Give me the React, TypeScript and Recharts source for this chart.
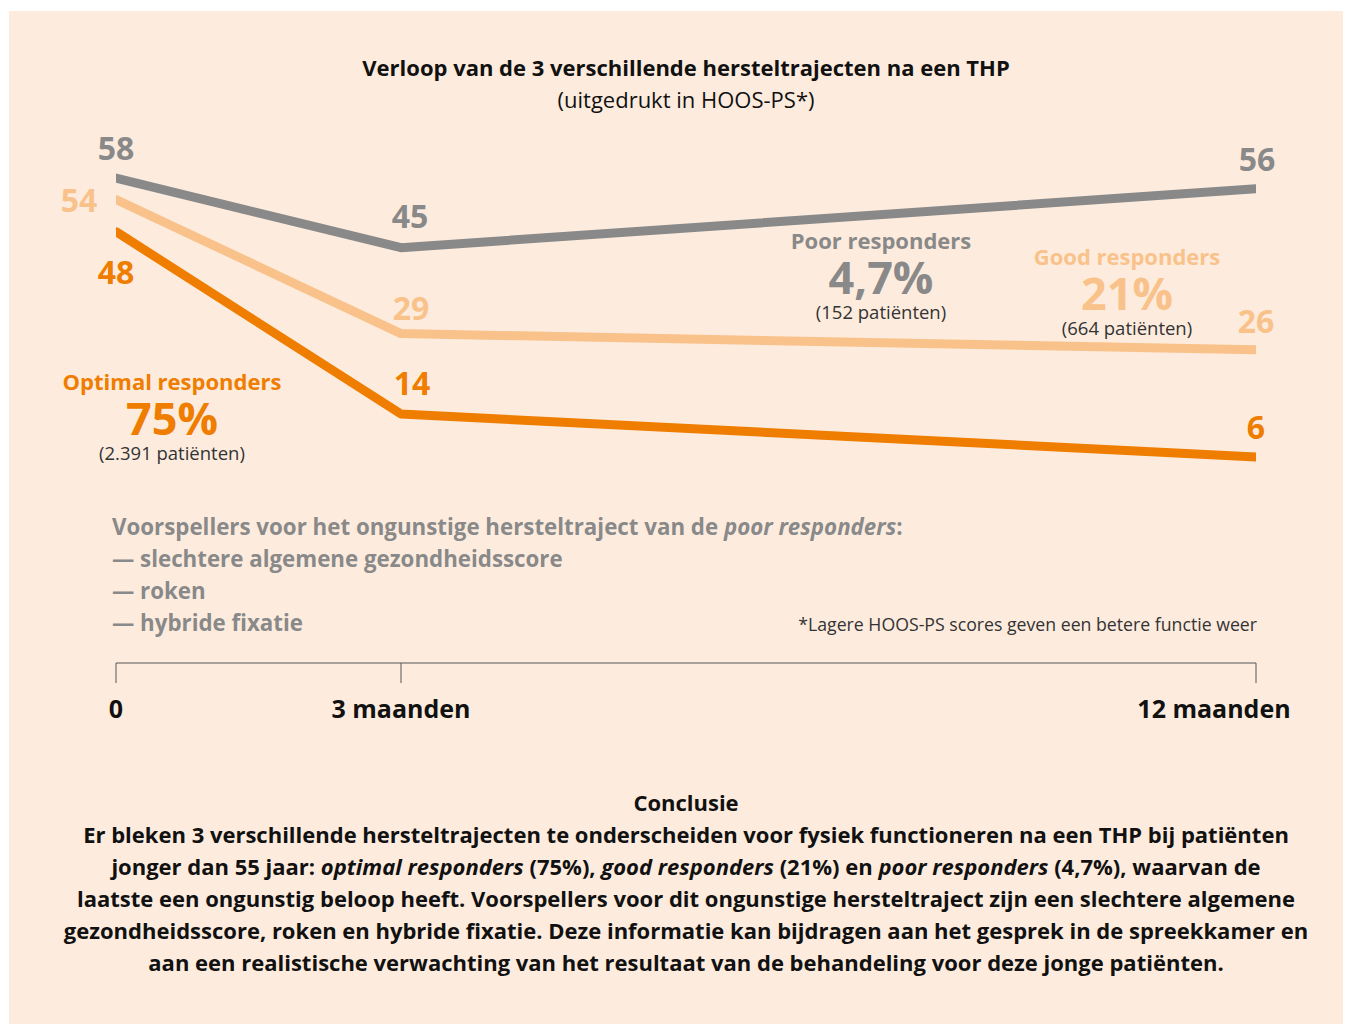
import React from "react";
import { LineChart, Line, XAxis, YAxis, LabelList } from "recharts";

const months = [0, 3, 12];
const tickLabels = ["0", "3 maanden", "12 maanden"];
const poor = [58, 45, 56];
const good = [54, 29, 26];
const optimal = [48, 14, 6];

const data = months.map((m, i) => ({ month: m, poor: poor[i], good: good[i], optimal: optimal[i] }));

const GRAY = "#898989";
const LIGHT = "#f9c28b";
const ORANGE = "#ef7d00";
const BG = "#fdecde";
const FONT = "'Open Sans', sans-serif";

// label offsets (dx, dy) per point, relative to the line vertex
const poorOffsets = [[0, -31], [9, -32], [1, -30]];
const goodOffsets = [[-37, 0], [10, -26], [0, -29]];
const optimalOffsets = [[0, 40], [11, -32], [0, -30]];

const makeLabel = (color: string, offsets: number[][]) => (props: any) => {
  const { x, y, value, index } = props;
  const [dx, dy] = offsets[index] || [0, -30];
  return (
    <text x={x + dx} y={y + dy} fill={color} textAnchor="middle" dominantBaseline="central"
      fontFamily={FONT} fontWeight={700} fontSize={32}>
      {value}
    </text>
  );
};

const tickDx = [0, 0, -42];
const XTick = (props: any) => {
  const { x, y, payload, index } = props;
  return (
    <text x={x + tickDx[index]} y={y + 23} textAnchor="middle" dominantBaseline="central" fontFamily={FONT}
      fontWeight={700} fontSize={25} fill="#111">
      {tickLabels[months.indexOf(payload.value)]}
    </text>
  );
};

const Centered = ({ cx, cy, size, color, weight = 700, children }: any) => (
  <div style={{ position: "absolute", left: cx - 400, top: cy - size * 0.5, width: 800, textAlign: "center",
    fontFamily: FONT, fontSize: size, fontWeight: weight, color, lineHeight: `${size}px`, whiteSpace: "nowrap" }}>
    {children}
  </div>
);

const Group = ({ cx, cy, color, name, pct, n }: any) => (
  <>
    <Centered cx={cx} cy={cy} size={22} color={color}>{name}</Centered>
    <Centered cx={cx} cy={cy + 36} size={45} color={color}>{pct}</Centered>
    <Centered cx={cx} cy={cy + 72} size={18.5} color="#333" weight={400}>{n}</Centered>
  </>
);

const abs = (left: number, top: number, extra: any = {}) => ({ position: "absolute" as const, left, top, ...extra });

export default function App() {
  return (
    <div style={{ position: "absolute", left: 0, top: 0, width: 1352, height: 1026, background: "#fff", fontFamily: FONT, overflow: "hidden" }}>
      <div style={abs(9, 11, { width: 1334, height: 1013, background: BG })} />

      <Centered cx={686} cy={67} size={22} color="#111">Verloop van de 3 verschillende hersteltrajecten na een THP</Centered>
      <Centered cx={686} cy={99} size={22} color="#111" weight={400}>(uitgedrukt in HOOS-PS*)</Centered>

      <div style={abs(0, 0)}>
        <LineChart width={1352} height={760} data={data} margin={{ top: 178, right: 96, bottom: 40, left: 116 }}>
          <XAxis dataKey="month" type="number" domain={[0, 12]} ticks={months} stroke="#555"
            tickSize={20} tickLine={{ stroke: "#555" }}
            tick={<XTick />} height={57} allowDataOverflow />
          <YAxis hide domain={[-32.4, 58]} />
          <Line dataKey="poor" stroke={GRAY} strokeWidth={9} strokeLinecap="round" strokeLinejoin="round" dot={false} isAnimationActive={false}>
            <LabelList dataKey="poor" content={makeLabel(GRAY, poorOffsets)} />
          </Line>
          <Line dataKey="good" stroke={LIGHT} strokeWidth={9} strokeLinecap="round" strokeLinejoin="round" dot={false} isAnimationActive={false}>
            <LabelList dataKey="good" content={makeLabel(LIGHT, goodOffsets)} />
          </Line>
          <Line dataKey="optimal" stroke={ORANGE} strokeWidth={9} strokeLinecap="round" strokeLinejoin="round" dot={false} isAnimationActive={false}>
            <LabelList dataKey="optimal" content={makeLabel(ORANGE, optimalOffsets)} />
          </Line>
        </LineChart>
      </div>

      <Group cx={172} cy={381} color={ORANGE} name="Optimal responders" pct="75%" n="(2.391 patiënten)" />
      <Group cx={881} cy={240} color={GRAY} name="Poor responders" pct="4,7%" n="(152 patiënten)" />
      <Group cx={1127} cy={256} color={LIGHT} name="Good responders" pct="21%" n="(664 patiënten)" />

      <div style={abs(112, 511, { color: GRAY, fontWeight: 700, fontSize: 22.3, lineHeight: "32px" })}>
        <div>Voorspellers voor het ongunstige hersteltraject van de <i>poor responders</i>:</div>
        <div>— slechtere algemene gezondheidsscore</div>
        <div>— roken</div>
        <div>— hybride fixatie</div>
      </div>

      <div style={abs(657, 612, { width: 600, textAlign: "right", color: "#333", fontSize: 17.7 })}>
        *Lagere HOOS-PS scores geven een betere functie weer
      </div>

      <div style={abs(-100, 786, { width: 1572, textAlign: "center", color: "#111", fontWeight: 700, fontSize: 22, lineHeight: "32px" })}>
        <div>Conclusie</div>
        Er bleken 3 verschillende hersteltrajecten te onderscheiden voor fysiek functioneren na een THP bij patiënten<br />
        jonger dan 55 jaar: <i>optimal responders</i> (75%), <i>good responders</i> (21%) en <i>poor responders</i> (4,7%), waarvan de<br />
        laatste een ongunstig beloop heeft. Voorspellers voor dit ongunstige hersteltraject zijn een slechtere algemene<br />
        gezondheidsscore, roken en hybride fixatie. Deze informatie kan bijdragen aan het gesprek in de spreekkamer en<br />
        aan een realistische verwachting van het resultaat van de behandeling voor deze jonge patiënten.
      </div>
    </div>
  );
}
